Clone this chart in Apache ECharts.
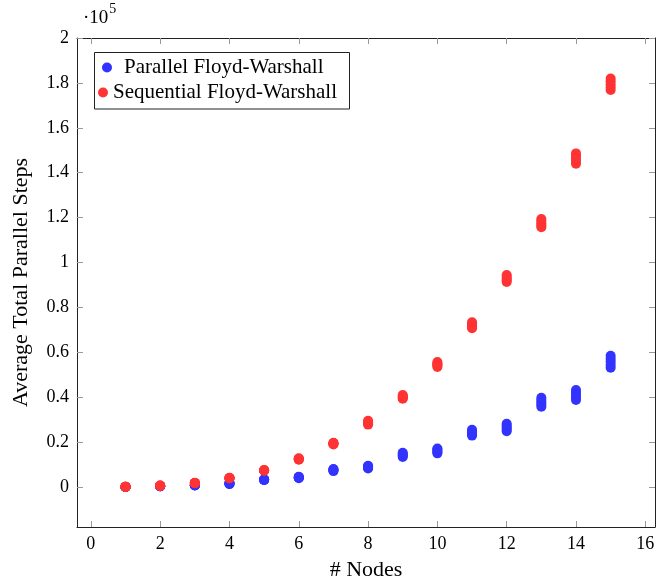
<!DOCTYPE html>
<html>
<head>
<meta charset="utf-8">
<script src="https://cdn.jsdelivr.net/npm/echarts@6/dist/echarts.min.js"></script>
<style>html,body{margin:0;padding:0;background:#fff}#c{width:656px;height:580px}</style>
</head>
<body>
<div id="c"></div>
<script>
// Number of nodes (x categories)
const nodes = [1, 2, 3, 4, 5, 6, 7, 8, 9, 10, 11, 12, 13, 14, 15];
// Samples per node (average total parallel steps)
const parallelSamples = [
  [30, 40, 50, 60, 70],
  [300, 350, 400, 420, 450],
  [700, 750, 800, 850, 900],
  [1300, 1450, 1600, 1700, 1800],
  [3100, 3200, 3250, 3300, 3400],
  [3900, 4100, 4300, 4500, 4600],
  [7100, 7400, 7600, 7800, 8000],
  [8300, 8600, 8900, 9200, 9500],
  [13400, 13900, 14300, 14800, 15300],
  [15000, 15600, 16100, 16700, 17200],
  [22900, 23600, 24200, 24900, 25500],
  [24900, 25700, 26500, 27400, 28200],
  [35800, 36800, 37800, 38800, 39800],
  [38800, 39900, 41000, 42100, 43200],
  [53100, 54400, 55800, 57100, 58500]
];
const sequentialSamples = [
  [60, 80, 100, 110, 120],
  [500, 550, 600, 650, 700],
  [1700, 1750, 1800, 1850, 1900],
  [3900, 3950, 4000, 4050, 4100],
  [7300, 7400, 7450, 7500, 7600],
  [12200, 12400, 12500, 12600, 12800],
  [19000, 19200, 19400, 19500, 19700],
  [27800, 28200, 28600, 29000, 29500],
  [39300, 39700, 40100, 40500, 41000],
  [53500, 54100, 54600, 55100, 55700],
  [70700, 71400, 72000, 72700, 73400],
  [91300, 92100, 92800, 93600, 94400],
  [115700, 116600, 117500, 118500, 119400],
  [144000, 145200, 146300, 147500, 148600],
  [176800, 178100, 179400, 180700, 182000]
];
const xTicks = [0, 2, 4, 6, 8, 10, 12, 14, 16];
const yTicks = [0, 20000, 40000, 60000, 80000, 100000, 120000, 140000, 160000, 180000, 200000];
const seriesNames = ['Parallel Floyd-Warshall', 'Sequential Floyd-Warshall'];

const toPoints = (samples) => nodes.flatMap((n, i) => samples[i].map(v => [n, v]));

const FONT = '"Liberation Serif", "DejaVu Serif", serif';
const X_MIN = -0.4, X_MAX = 16.28, Y_MIN = -17800, Y_MAX = 200000;
const lineStyle = { color: '#222', width: 1 };
const tickStyle = { color: '#999', width: 1 };

const fmtY = v => { const s = (v / 100000).toFixed(1); return s.endsWith('.0') ? s.slice(0, -2) : s; };

const chart = echarts.init(document.getElementById('c'), null, { renderer: 'canvas' });
chart.setOption({
  animation: false,
  backgroundColor: '#fff',
  grid: { left: 77, right: 1, top: 38, bottom: 53, containLabel: false, outerBoundsMode: 'none' },
  xAxis: [
    {
      type: 'value', min: X_MIN, max: X_MAX, position: 'bottom',
      name: '# Nodes', nameLocation: 'middle', nameGap: 32,
      nameTextStyle: { fontFamily: FONT, fontSize: 22, color: '#000' },
      axisLine: { show: true, onZero: false, lineStyle },
      axisTick: { show: true, inside: true, length: 6, lineStyle: tickStyle, customValues: xTicks },
      axisLabel: { show: true, customValues: xTicks, fontFamily: FONT, fontSize: 18, color: '#000', margin: 8 },
      splitLine: { show: false }
    },
    {
      type: 'value', min: X_MIN, max: X_MAX, position: 'top',
      axisLine: { show: true, onZero: false, lineStyle },
      axisTick: { show: true, inside: true, length: 6, lineStyle: tickStyle, customValues: xTicks },
      axisLabel: { show: false },
      splitLine: { show: false }
    }
  ],
  yAxis: [
    {
      type: 'value', min: Y_MIN, max: Y_MAX, position: 'left',
      name: 'Average Total Parallel Steps', nameLocation: 'middle', nameGap: 45,
      nameTextStyle: { fontFamily: FONT, fontSize: 22, color: '#000' },
      axisLine: { show: true, onZero: false, lineStyle },
      axisTick: { show: true, inside: true, length: 6, lineStyle: tickStyle, customValues: yTicks },
      axisLabel: { show: true, customValues: yTicks, formatter: fmtY, fontFamily: FONT, fontSize: 18, color: '#000', margin: 8 },
      splitLine: { show: false }
    },
    {
      type: 'value', min: Y_MIN, max: Y_MAX, position: 'right',
      axisLine: { show: true, onZero: false, lineStyle },
      axisTick: { show: true, inside: true, length: 6, lineStyle: tickStyle, customValues: yTicks },
      axisLabel: { show: false },
      splitLine: { show: false }
    }
  ],
  legend: [
    {
      data: [seriesNames[0]], left: 102, top: 57, orient: 'vertical',
      icon: 'circle', itemWidth: 10, itemHeight: 10, padding: 0,
      textStyle: { fontFamily: FONT, fontSize: 21, color: '#000', padding: [0, 0, 0, 7] },
      z: 10
    },
    {
      data: [seriesNames[1]], left: 98, top: 82, orient: 'vertical',
      icon: 'circle', itemWidth: 10, itemHeight: 10, padding: 0,
      textStyle: { fontFamily: FONT, fontSize: 21, color: '#000' },
      z: 10
    }
  ],
  graphic: [
    {
      type: 'rect', z: 5, shape: { x: 94.5, y: 52.5, width: 255, height: 56.5 },
      style: { fill: '#fff', stroke: '#222', lineWidth: 1 }
    },
    {
      type: 'text', left: 83, top: 2, z: 5,
      style: {
        text: '{a|·10}{b|5}',
        rich: {
          a: { fontFamily: FONT, fontSize: 19, fill: '#000', verticalAlign: 'bottom', lineHeight: 26 },
          b: { fontFamily: FONT, fontSize: 14, fill: '#000', verticalAlign: 'top', padding: [0, 0, 9, 1] }
        }
      }
    }
  ],
  series: [
    {
      name: seriesNames[0], type: 'scatter', xAxisIndex: 0, yAxisIndex: 0,
      data: toPoints(parallelSamples), symbol: 'circle', symbolSize: 10,
      itemStyle: { color: '#3333ff', opacity: 1 }, z: 2
    },
    {
      name: seriesNames[1], type: 'scatter', xAxisIndex: 0, yAxisIndex: 0,
      data: toPoints(sequentialSamples), symbol: 'circle', symbolSize: 10,
      itemStyle: { color: '#ff3333', opacity: 1 }, z: 3
    }
  ]
});
</script>
</body>
</html>
